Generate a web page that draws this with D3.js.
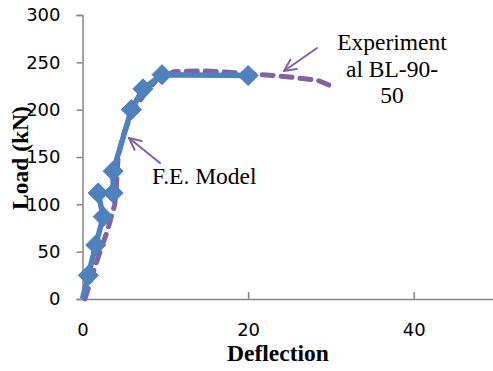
<!DOCTYPE html>
<html>
<head>
<meta charset="utf-8">
<script src="https://cdn.jsdelivr.net/npm/d3@7"></script>
<style>
  html, body { margin: 0; padding: 0; background: #ffffff; }
  svg { display: block; }
</style>
</head>
<body>
<svg id="chart" width="493" height="371"></svg>
<script>
// Finite element model: deflection (mm) vs load (kN)
const feDeflection = [0, 0.7, 1.6, 2.5, 1.9, 3.7, 3.7, 5.9, 7.3, 9.6, 20];
const feLoad       = [0, 25, 57, 87, 112, 112, 135, 200, 222, 237, 236];

// Experimental beam BL-90-50
const expDeflection = [0.3, 1.0, 2.0, 3.0, 3.9, 4.1, 4.3, 5.0, 6.0, 7.3, 9.0, 11, 14, 17, 20, 23.3, 25.5, 28.4, 30.3];
const expLoad       = [0, 20, 47, 72, 100, 120, 150, 175, 198, 214, 232, 240, 241, 240, 238, 236, 234, 231, 224];

const xTicks = [0, 20, 40];
const yTicks = [0, 50, 100, 150, 200, 250, 300];

const svg = d3.select("#chart");

const x = d3.scaleLinear().domain([0, 50]).range([82.5, 496.5]);
const y = d3.scaleLinear().domain([0, 300]).range([299, 15]);

const axisColor = "#868686";
const blue = "#4F81BD";
const purple = "#8064A2";
const tickFont = "DejaVu Sans, sans-serif";
const serif = "Liberation Serif, Times New Roman, serif";

// Y axis: ticks outside to the left
const yAxis = svg.append("g")
  .attr("transform", `translate(${x(0)},0)`)
  .call(d3.axisLeft(y).tickValues(yTicks).tickSize(6).tickPadding(16));
yAxis.select(".domain").attr("stroke", axisColor).attr("stroke-width", 1.5);
yAxis.selectAll(".tick line").attr("stroke", axisColor).attr("stroke-width", 1.5);
yAxis.selectAll(".tick text")
  .attr("font-family", tickFont).attr("font-size", 18).attr("fill", "#000");

// X axis: ticks pointing up into the plot
const xAxis = svg.append("g")
  .attr("transform", `translate(0,${y(0)})`)
  .call(d3.axisBottom(x).tickValues(xTicks).tickSizeInner(-7).tickSizeOuter(0).tickPadding(24));
xAxis.select(".domain").attr("stroke", axisColor).attr("stroke-width", 1.5);
xAxis.selectAll(".tick line").attr("stroke", axisColor).attr("stroke-width", 1.5);
xAxis.selectAll(".tick text")
  .attr("font-family", tickFont).attr("font-size", 18).attr("fill", "#000");

// Experimental curve (dashed)
const expData = expDeflection.map((d, i) => [d, expLoad[i]]);
svg.append("path")
  .datum(expData)
  .attr("fill", "none")
  .attr("stroke", purple)
  .attr("stroke-width", 5)
  .attr("stroke-dasharray", "11,8")
  .attr("stroke-linecap", "round")
  .attr("stroke-linejoin", "round")
  .attr("d", d3.line().x(d => x(d[0])).y(d => y(d[1])));

// FE model curve with diamond markers (first point is the origin, unmarked)
const feData = feDeflection.map((d, i) => [d, feLoad[i]]);
svg.append("path")
  .datum(feData)
  .attr("fill", "none")
  .attr("stroke", blue)
  .attr("stroke-width", 5.5)
  .attr("stroke-linejoin", "round")
  .attr("d", d3.line().x(d => x(d[0])).y(d => y(d[1])));

const r = 10;
svg.append("g").selectAll("path")
  .data(feData.slice(1))
  .join("path")
  .attr("transform", d => `translate(${x(d[0])},${y(d[1])})`)
  .attr("d", `M0,${-r}L${r},0L0,${r}L${-r},0Z`)
  .attr("fill", blue)
  .attr("stroke", "#4A7EBB")
  .attr("stroke-width", 1);

// Annotation arrows
function arrow(x1, y1, x2, y2) {
  const g = svg.append("g")
    .attr("stroke", purple).attr("stroke-width", 2).attr("fill", "none")
    .attr("stroke-linecap", "round");
  g.append("line").attr("x1", x1).attr("y1", y1).attr("x2", x2).attr("y2", y2);
  const ang = Math.atan2(y1 - y2, x1 - x2);
  const len = 13, spread = 0.45;
  [ang - spread, ang + spread].forEach(a => {
    g.append("line")
      .attr("x1", x2).attr("y1", y2)
      .attr("x2", x2 + len * Math.cos(a)).attr("y2", y2 + len * Math.sin(a));
  });
}
arrow(160, 163, 129, 138);
arrow(317, 48, 284, 71);

// Annotation texts
svg.append("text")
  .attr("x", 152).attr("y", 184)
  .attr("font-family", serif).attr("font-size", 23.5).attr("fill", "#000")
  .text("F.E. Model");

const expLabel = svg.append("text")
  .attr("font-family", serif).attr("font-size", 23.5).attr("fill", "#000")
  .attr("text-anchor", "middle");
["Experiment", "al BL-90-", "50"].forEach((t, i) => {
  expLabel.append("tspan").attr("x", 392).attr("y", 50 + i * 26.5).text(t);
});

// Axis titles
svg.append("text")
  .attr("x", 278).attr("y", 361)
  .attr("text-anchor", "middle")
  .attr("font-family", serif).attr("font-size", 23.5).attr("font-weight", "bold")
  .attr("fill", "#000")
  .text("Deflection");

svg.append("text")
  .attr("transform", "translate(28,158) rotate(-90)")
  .attr("text-anchor", "middle")
  .attr("font-family", serif).attr("font-size", 23.5).attr("font-weight", "bold")
  .attr("fill", "#000")
  .text("Load (kN)");
</script>
</body>
</html>
